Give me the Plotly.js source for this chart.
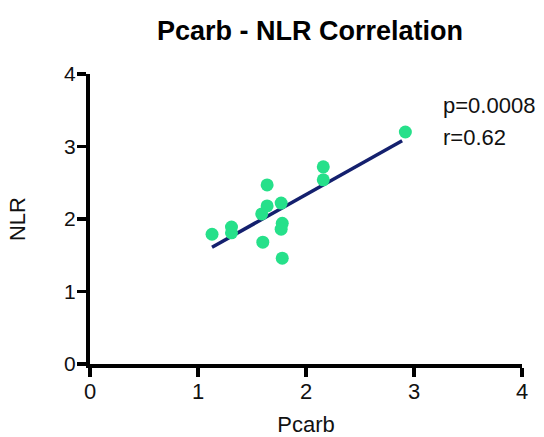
<!DOCTYPE html>
<html>
<head>
<meta charset="utf-8">
<script src="https://cdn.plot.ly/plotly-3.0.1.min.js"></script>
<style>html,body{margin:0;padding:0;background:#fff;}#chart{width:544px;height:437px;}</style>
</head>
<body>
<div id="chart"></div>
<script>
const pcarb = [1.13, 1.31, 1.31, 1.60, 1.59, 1.64, 1.64, 1.77, 1.78, 1.77, 1.78, 2.16, 2.16, 2.92];
const nlr   = [1.79, 1.89, 1.81, 1.68, 2.07, 2.18, 2.47, 2.22, 1.94, 1.86, 1.46, 2.72, 2.54, 3.20];
const fitX = [1.13, 2.89];
const fitY = [1.61, 3.08];
const xTicks = [0, 1, 2, 3, 4];
const yTicks = [0, 1, 2, 3, 4];
const statLabels = ["p=0.0008", "r=0.62"];

const font = "Liberation Sans, Arial, sans-serif";

const traces = [
  {x: fitX, y: fitY, mode: "lines", type: "scatter",
   line: {color: "#14206e", width: 3.5}, hoverinfo: "skip"},
  {x: pcarb, y: nlr, mode: "markers", type: "scatter",
   marker: {color: "#26e08a", size: 13}}
];

const layout = {
  width: 544, height: 437,
  margin: {l: 90, r: 22, t: 74, b: 73},
  showlegend: false,
  paper_bgcolor: "#fff", plot_bgcolor: "#fff",
  font: {family: font, color: "#000"},
  title: {text: "<b>Pcarb - NLR Correlation</b>", font: {family: font, size: 27, color: "#000"},
          x: 0.57, xanchor: "center", y: 0.93, yanchor: "middle", yref: "container"},
  xaxis: {range: [0, 4], tickvals: xTicks, ticktext: xTicks.map(String),
          showgrid: false, zeroline: false, showline: true, linecolor: "#000", linewidth: 4,
          ticks: "outside", ticklen: 9, tickwidth: 3.5, tickcolor: "#000",
          ticklabelstandoff: -4,
          tickfont: {size: 22, color: "#111"},
          title: {text: "Pcarb", font: {size: 22, color: "#111"}, standoff: 14}},
  yaxis: {range: [0, 4], tickvals: yTicks, ticktext: yTicks.map(String),
          showgrid: false, zeroline: false, showline: true, linecolor: "#000", linewidth: 4,
          ticks: "outside", ticklen: 9, tickwidth: 3.5, tickcolor: "#000",
          ticklabelstandoff: -3,
          tickfont: {size: 21, color: "#111"},
          title: {text: "NLR", font: {size: 22, color: "#111"}, standoff: 33}},
  annotations: [
    {text: statLabels[0], xref: "paper", yref: "paper", x: 0.813, y: 0.89, xanchor: "left", yanchor: "middle",
     showarrow: false, font: {size: 22, color: "#111"}},
    {text: statLabels[1], xref: "paper", yref: "paper", x: 0.813, y: 0.78, xanchor: "left", yanchor: "middle",
     showarrow: false, font: {size: 22, color: "#111"}}
  ]
};

Plotly.newPlot("chart", traces, layout, {displayModeBar: false, staticPlot: true});
</script>
</body>
</html>
